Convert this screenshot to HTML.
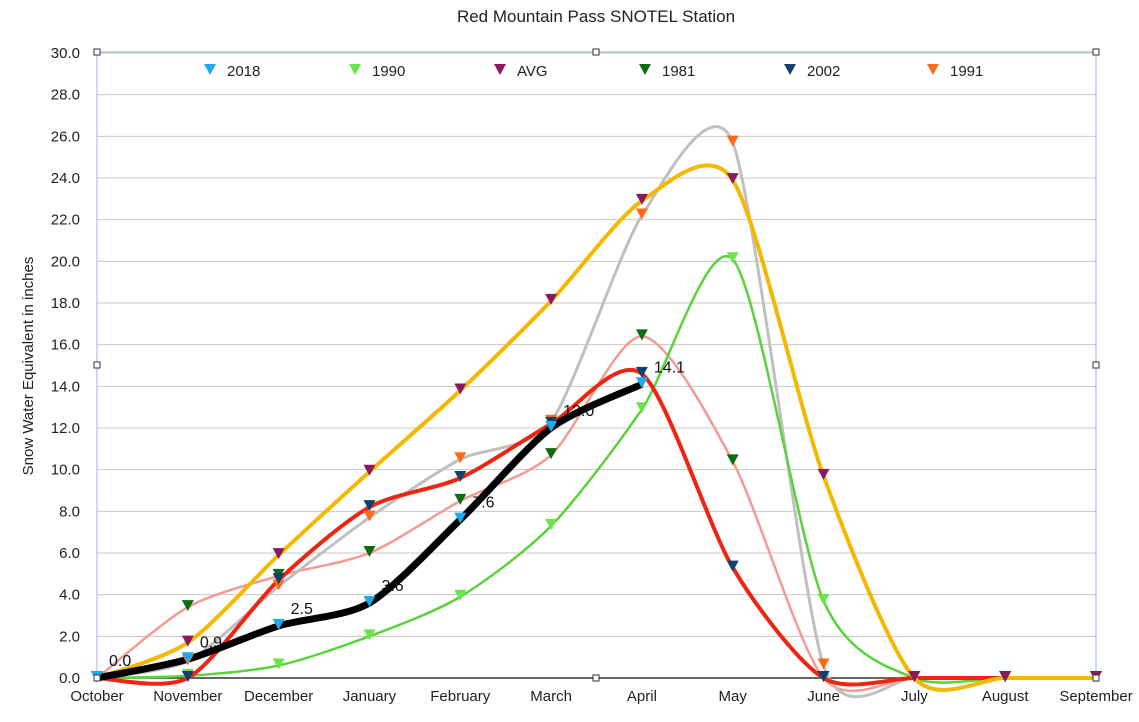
<!DOCTYPE html>
<html><head><meta charset="utf-8"><style>
body{margin:0;background:#fff;}
svg text{font-family:"Liberation Sans",sans-serif;}
</style></head><body>
<svg id="s" width="1139" height="717" xmlns="http://www.w3.org/2000/svg"></svg>
<script>
const s=document.getElementById('s');
const X0=97,DX=(1096-97)/11,Y0=678,K=(678-53)/30;
const xs=i=>X0+i*DX, ys=v=>Y0-v*K;
let h='';
h+='<text x="596" y="22" font-size="17" text-anchor="middle" fill="#222">Red Mountain Pass SNOTEL Station</text>';
for(let i=0;i<=15;i++){const v=i*2,y=ys(v);
 h+=`<line x1="${X0}" x2="1096" y1="${y}" y2="${y}" stroke="#c8c8c8" stroke-width="1"/>`;
 h+=`<text x="80" y="${y+5}" font-size="15" text-anchor="end" fill="#222">${v.toFixed(1)}</text>`;}
const months=['October','November','December','January','February','March','April','May','June','July','August','September'];
months.forEach((m,i)=>h+=`<text x="${xs(i)}" y="701" font-size="15" text-anchor="middle" fill="#222">${m}</text>`);
h+=`<text transform="translate(33,366) rotate(-90)" font-size="15" text-anchor="middle" fill="#222">Snow Water Equivalent in inches</text>`;
h+=`<rect x="${X0}" y="52" width="${1096-X0}" height="626" fill="none" stroke="#9db0e0" stroke-width="1"/>`;
h+=`<line x1="${X0}" x2="1096" y1="678" y2="678" stroke="#333" stroke-width="1.5"/>`;
function path(d,t){t=t||7.5;const p=d.map((v,i)=>[xs(i),ys(v)]);let str=`M${p[0][0]},${p[0][1]}`;
 for(let i=0;i<p.length-1;i++){const a=p[Math.max(0,i-1)],b=p[i],c=p[i+1],e=p[Math.min(p.length-1,i+2)];
 const c1=[b[0]+(c[0]-a[0])/t,b[1]+(c[1]-a[1])/t],c2=[c[0]-(e[0]-b[0])/t,c[1]-(e[1]-b[1])/t];
 str+=`C${c1[0]},${c1[1]} ${c2[0]},${c2[1]} ${c[0]},${c[1]}`;}return str;}
function tri(x,y,c){return `<path d="M${x-6},${y-6}L${x+6},${y-6}L${x},${y+5}Z" fill="${c}"/>`;}
const S=[
 {d:[0,3.4,4.9,6.0,8.5,10.7,16.4,10.4,0,0,0,0],l:'#f59a93',m:'#0d6b12',w:2.5},
 {d:[0,0.8,4.4,7.7,10.5,12.3,22.2,25.7,0.6,0,0,0],l:'#c0c0c0',m:'#ff6a1a',w:3,t:8.5},
 {d:[0,0.1,0.6,2.0,3.9,7.3,12.9,20.1,3.7,0,0,0],l:'#5ad33a',m:'#6be34a',w:2.5},
 {d:[0,0,4.7,8.2,9.6,12.2,14.6,5.3,0,0,0,0],l:'#ee2512',m:'#12406e',w:4},
 {d:[0,1.7,5.9,9.9,13.8,18.1,22.9,23.9,9.7,0,0,0],l:'#f5b800',m:'#8a1a5e',w:4},
 {d:[0,0.9,2.5,3.6,7.6,12.0,14.1],l:'#000',m:'#1ea8f0',w:7}];
S.forEach(o=>h+=`<path d="${path(o.d,o.t)}" fill="none" stroke="${o.l}" stroke-width="${o.w}"/>`);
S.forEach(o=>o.d.forEach((v,i)=>h+=tri(xs(i),ys(v)-1,o.m)));
[[0,'0.0'],[1,'0.9'],[2,'2.5'],[3,'3.6'],[4,'7.6'],[5,'12.0'],[6,'14.1']].forEach(([i,t])=>{
 const v=S[5].d[i];h+=`<text x="${xs(i)+12}" y="${ys(v)-12}" font-size="16" fill="#111">${t}</text>`;});
const L=[['2018','#1ea8f0',210],['1990','#6be34a',355],['AVG','#8a1a5e',500],['1981','#0d6b12',645],['2002','#12406e',790],['1991','#ff6a1a',933]];
L.forEach(([t,c,x])=>{h+=tri(x,70,c);h+=`<text x="${x+17}" y="76" font-size="15" fill="#222">${t}</text>`;});
[[X0,52],[596,52],[1096,52],[X0,365],[1096,365],[X0,678],[596,678],[1096,678]].forEach(([x,y])=>h+=`<rect x="${x-3}" y="${y-3}" width="6" height="6" fill="#fff" stroke="#333" stroke-width="1"/>`);
s.innerHTML=h;
</script>
</body></html>
